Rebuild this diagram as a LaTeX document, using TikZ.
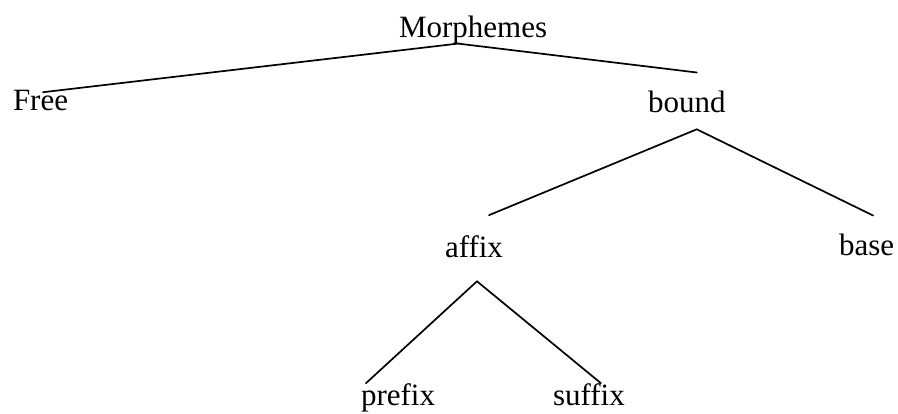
\documentclass[tikz,border=0pt]{standalone}
\usepackage{fontspec}
\setmainfont{Liberation Serif}
\begin{document}
\begin{tikzpicture}[x=1pt,y=-1pt,
  lbl/.style={inner sep=0pt,outer sep=0pt,anchor=base west,font=\fontsize{31}{36}\selectfont},
  edge/.style={line width=1.7pt,line cap=round}]
\useasboundingbox (0,0) rectangle (898,413);
\node[lbl] (M) at (399,37) {Morphemes};
\node[lbl] (F) at (13,110) {Free};
\node[lbl] (B) at (648,112) {bound};
\node[lbl] (A) at (445,257) {affix};
\node[lbl] (S) at (839,255) {base};
\node[lbl] (P) at (361,405) {prefix};
\node[lbl] (X) at (553,405) {suffix};
\draw[edge] ([xshift=-15pt]M.south) -- ([xshift=2.5pt,yshift=-2.5pt]F.north);
\draw[edge] ([xshift=-15pt]M.south) -- ([xshift=10pt,yshift=18pt]B.north);
\draw[edge] ([xshift=10pt,yshift=-17pt]B.south) -- ([xshift=15pt,yshift=20pt]A.north);
\draw[edge] ([xshift=10pt,yshift=-17pt]B.south) -- ([xshift=6.5pt,yshift=18pt]S.north);
\draw[edge] ([xshift=3pt,yshift=-24pt]A.south) -- ([xshift=-32pt]P.north);
\draw[edge] ([xshift=3pt,yshift=-24pt]A.south) -- ([xshift=12pt]X.north);
\end{tikzpicture}
\end{document}
